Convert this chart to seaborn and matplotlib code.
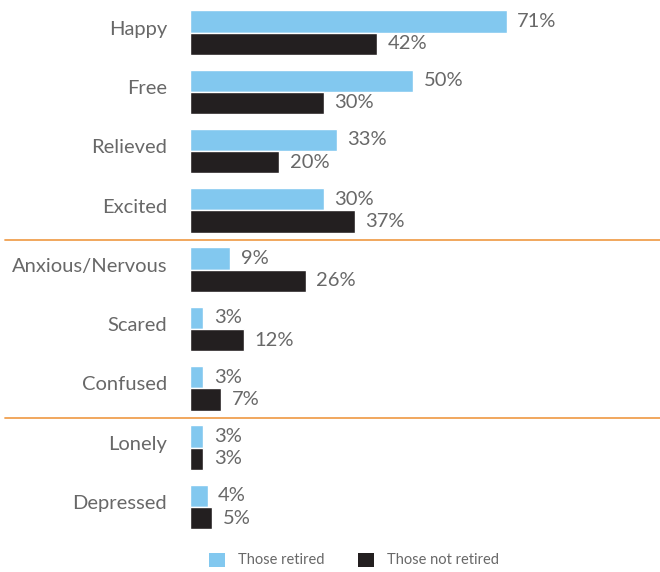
import matplotlib
matplotlib.use("Agg")
import matplotlib.pyplot as plt
import matplotlib.transforms as mtransforms
from matplotlib.patches import Patch
import seaborn as sns
import pandas as pd

feelings = ["Happy", "Free", "Relieved", "Excited", "Anxious/Nervous",
            "Scared", "Confused", "Lonely", "Depressed"]
retired = [71, 50, 33, 30, 9, 3, 3, 3, 4]
not_retired = [42, 30, 20, 37, 26, 12, 7, 3, 5]
groups = ["Those retired", "Those not retired"]
colors = ["#82C8EF", "#231F20"]
text_grey = "#686868"

df = pd.DataFrame({
    "feeling": feelings * 2,
    "pct": retired + not_retired,
    "group": [groups[0]] * len(feelings) + [groups[1]] * len(feelings),
})

sns.set_theme(style="white")
plt.rcParams["font.family"] = ["Lato", "DejaVu Sans"]

fig = plt.figure(figsize=(6.6, 5.72), dpi=100)
ax = fig.add_axes([190 / 660, 1 - 536.6 / 572, 470 / 660, (536.6 - 2.85) / 572])

sns.barplot(data=df, y="feeling", x="pct", hue="group", order=feelings,
            hue_order=groups, palette=colors, width=0.75, orient="h",
            saturation=1, ax=ax, legend=False)

for cont in ax.containers:
    ax.bar_label(cont, fmt="%g%%", padding=7.5, color=text_grey, fontsize=14.5)

ax.set_xlim(0, 470 / 4.46)
ax.set_ylim(8.5, -0.5)
ax.set_xlabel("")
ax.set_ylabel("")
ax.set_xticks([])
ax.tick_params(axis="y", length=0, pad=16.5, labelsize=14.5,
               labelcolor=text_grey)
sns.despine(ax=ax, left=True, bottom=True)

# nudge category names slightly upward
lift = mtransforms.ScaledTranslation(0, 3.5 / 72, fig.dpi_scale_trans)
for lbl in ax.get_yticklabels():
    lbl.set_transform(lbl.get_transform() + lift)

# separators between positive, anxious and negative feelings
for yv in (3.5, 6.5):
    ax.axhline(yv, xmin=-185 / 470, xmax=1, color="#F0A050", lw=1.3,
               clip_on=False)

handles = [Patch(facecolor=c, edgecolor="none") for c in colors]
fig.legend(handles, groups, loc="center", bbox_to_anchor=(0.536, 0.021),
           ncol=2, frameon=False, fontsize=10.5, handlelength=1.1,
           handleheight=1.1, columnspacing=2.3, handletextpad=0.9,
           labelcolor=text_grey)

fig.savefig("out.png", dpi=100)
